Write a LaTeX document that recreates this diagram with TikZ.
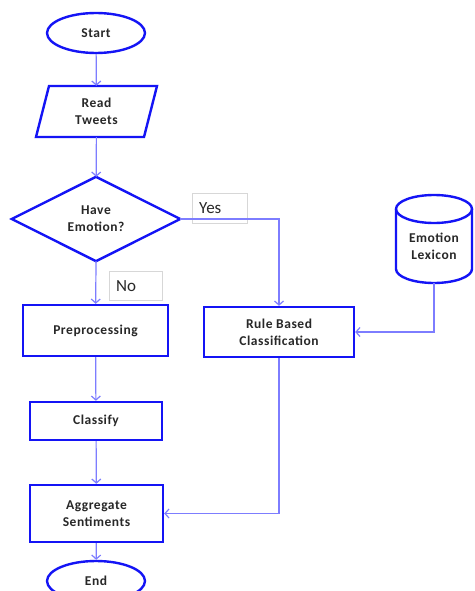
\documentclass[tikz,border=0pt]{standalone}
\usepackage{fontspec}
\setmainfont{Carlito}
\newfontfamily\boxfont{Carlito}[LetterSpace=4]
\usetikzlibrary{arrows.meta,shapes.geometric}
\definecolor{shapeblue}{RGB}{20,20,245}
\definecolor{linkblue}{RGB}{125,125,255}
\definecolor{txt}{RGB}{40,40,40}
\definecolor{lblgray}{RGB}{215,215,215}
\tikzset{
  shapeline/.style={draw=shapeblue,line width=2.4pt,line join=miter},
  boxtext/.style={font=\boxfont\fontsize{13.5}{17}\selectfont\bfseries,text=txt,align=center,inner sep=0pt},
  procbox/.style={shapeline,boxtext,rectangle},
  termnode/.style={shapeline,boxtext,ellipse,minimum width=98pt,minimum height=40pt},
  ghost/.style={boxtext,rectangle},
  link/.style={draw=linkblue,line width=1.2pt,-{Straight Barb[length=4pt,width=9pt]}},
  lblbox/.style={draw=lblgray,line width=0.8pt},
  lbltext/.style={font=\fontsize{17}{20}\selectfont,text=txt,inner sep=0pt,anchor=west}
}
\begin{document}
\begin{tikzpicture}[x=1pt,y=-1pt]
\useasboundingbox (0,0) rectangle (474,591);
\clip (0,0) rectangle (474,591);
\fill[white] (0,0) rectangle (474,591);

% Start
\node[termnode] (start) at (96,33) {Start};

% Read Tweets (parallelogram)
\node[ghost,minimum width=108pt,minimum height=51pt] (read) at (96.5,111.5) {Read\\Tweets};
\draw[shapeline] (49,86) -- (157,86) -- (144,137) -- (36,137) -- cycle;

% Decision
\node[ghost,minimum width=168pt,minimum height=84pt] (dec) at (96,219) {Have\\Emotion?};
\draw[shapeline] (dec.west) -- (dec.north) -- (dec.east) -- (dec.south) -- cycle;

% Process boxes
\node[procbox,minimum width=145pt,minimum height=51pt] (pre) at (95.5,330.5) {Preprocessing};
\node[procbox,minimum width=150pt,minimum height=50pt] (rule) at (279,332) {Rule Based\\Classification};
\node[procbox,minimum width=132pt,minimum height=38pt] (cls) at (96,421) {Classify};
\node[procbox,minimum width=133pt,minimum height=57pt] (agg) at (96.5,513.5) {Aggregate\\Sentiments};
\node[termnode] (end) at (96,581) {End};

% Emotion Lexicon (cylinder)
\draw[shapeline] (396,209) -- (396,269) arc[start angle=180,end angle=360,x radius=38pt,y radius=14pt] -- (472,209);
\draw[shapeline] (434,209) ellipse[x radius=38pt,y radius=14pt];
\node[ghost,minimum width=76pt,minimum height=74pt] (lex) at (434,246) {Emotion\\Lexicon};

% Labels
\draw[lblbox] (192,193) rectangle (247,223);
\node[lbltext] (yes) at (199,208) {Yes};
\draw[lblbox] (109,271) rectangle (162,300);
\node[lbltext] (no) at (116,286) {No};

% Connectors
\draw[link] (start) -- (read);
\draw[link] (read) -- (dec);
\draw[link] (dec.south) -- (pre);
\draw[link] (dec.east) -| (rule.north);
\draw[link] (lex.south) |- (rule.east);
\draw[link] (pre) -- (cls);
\draw[link] (cls) -- (agg);
\draw[link] (rule.south) |- (agg.east);
\draw[link] (agg) -- (end);
\end{tikzpicture}
\end{document}
